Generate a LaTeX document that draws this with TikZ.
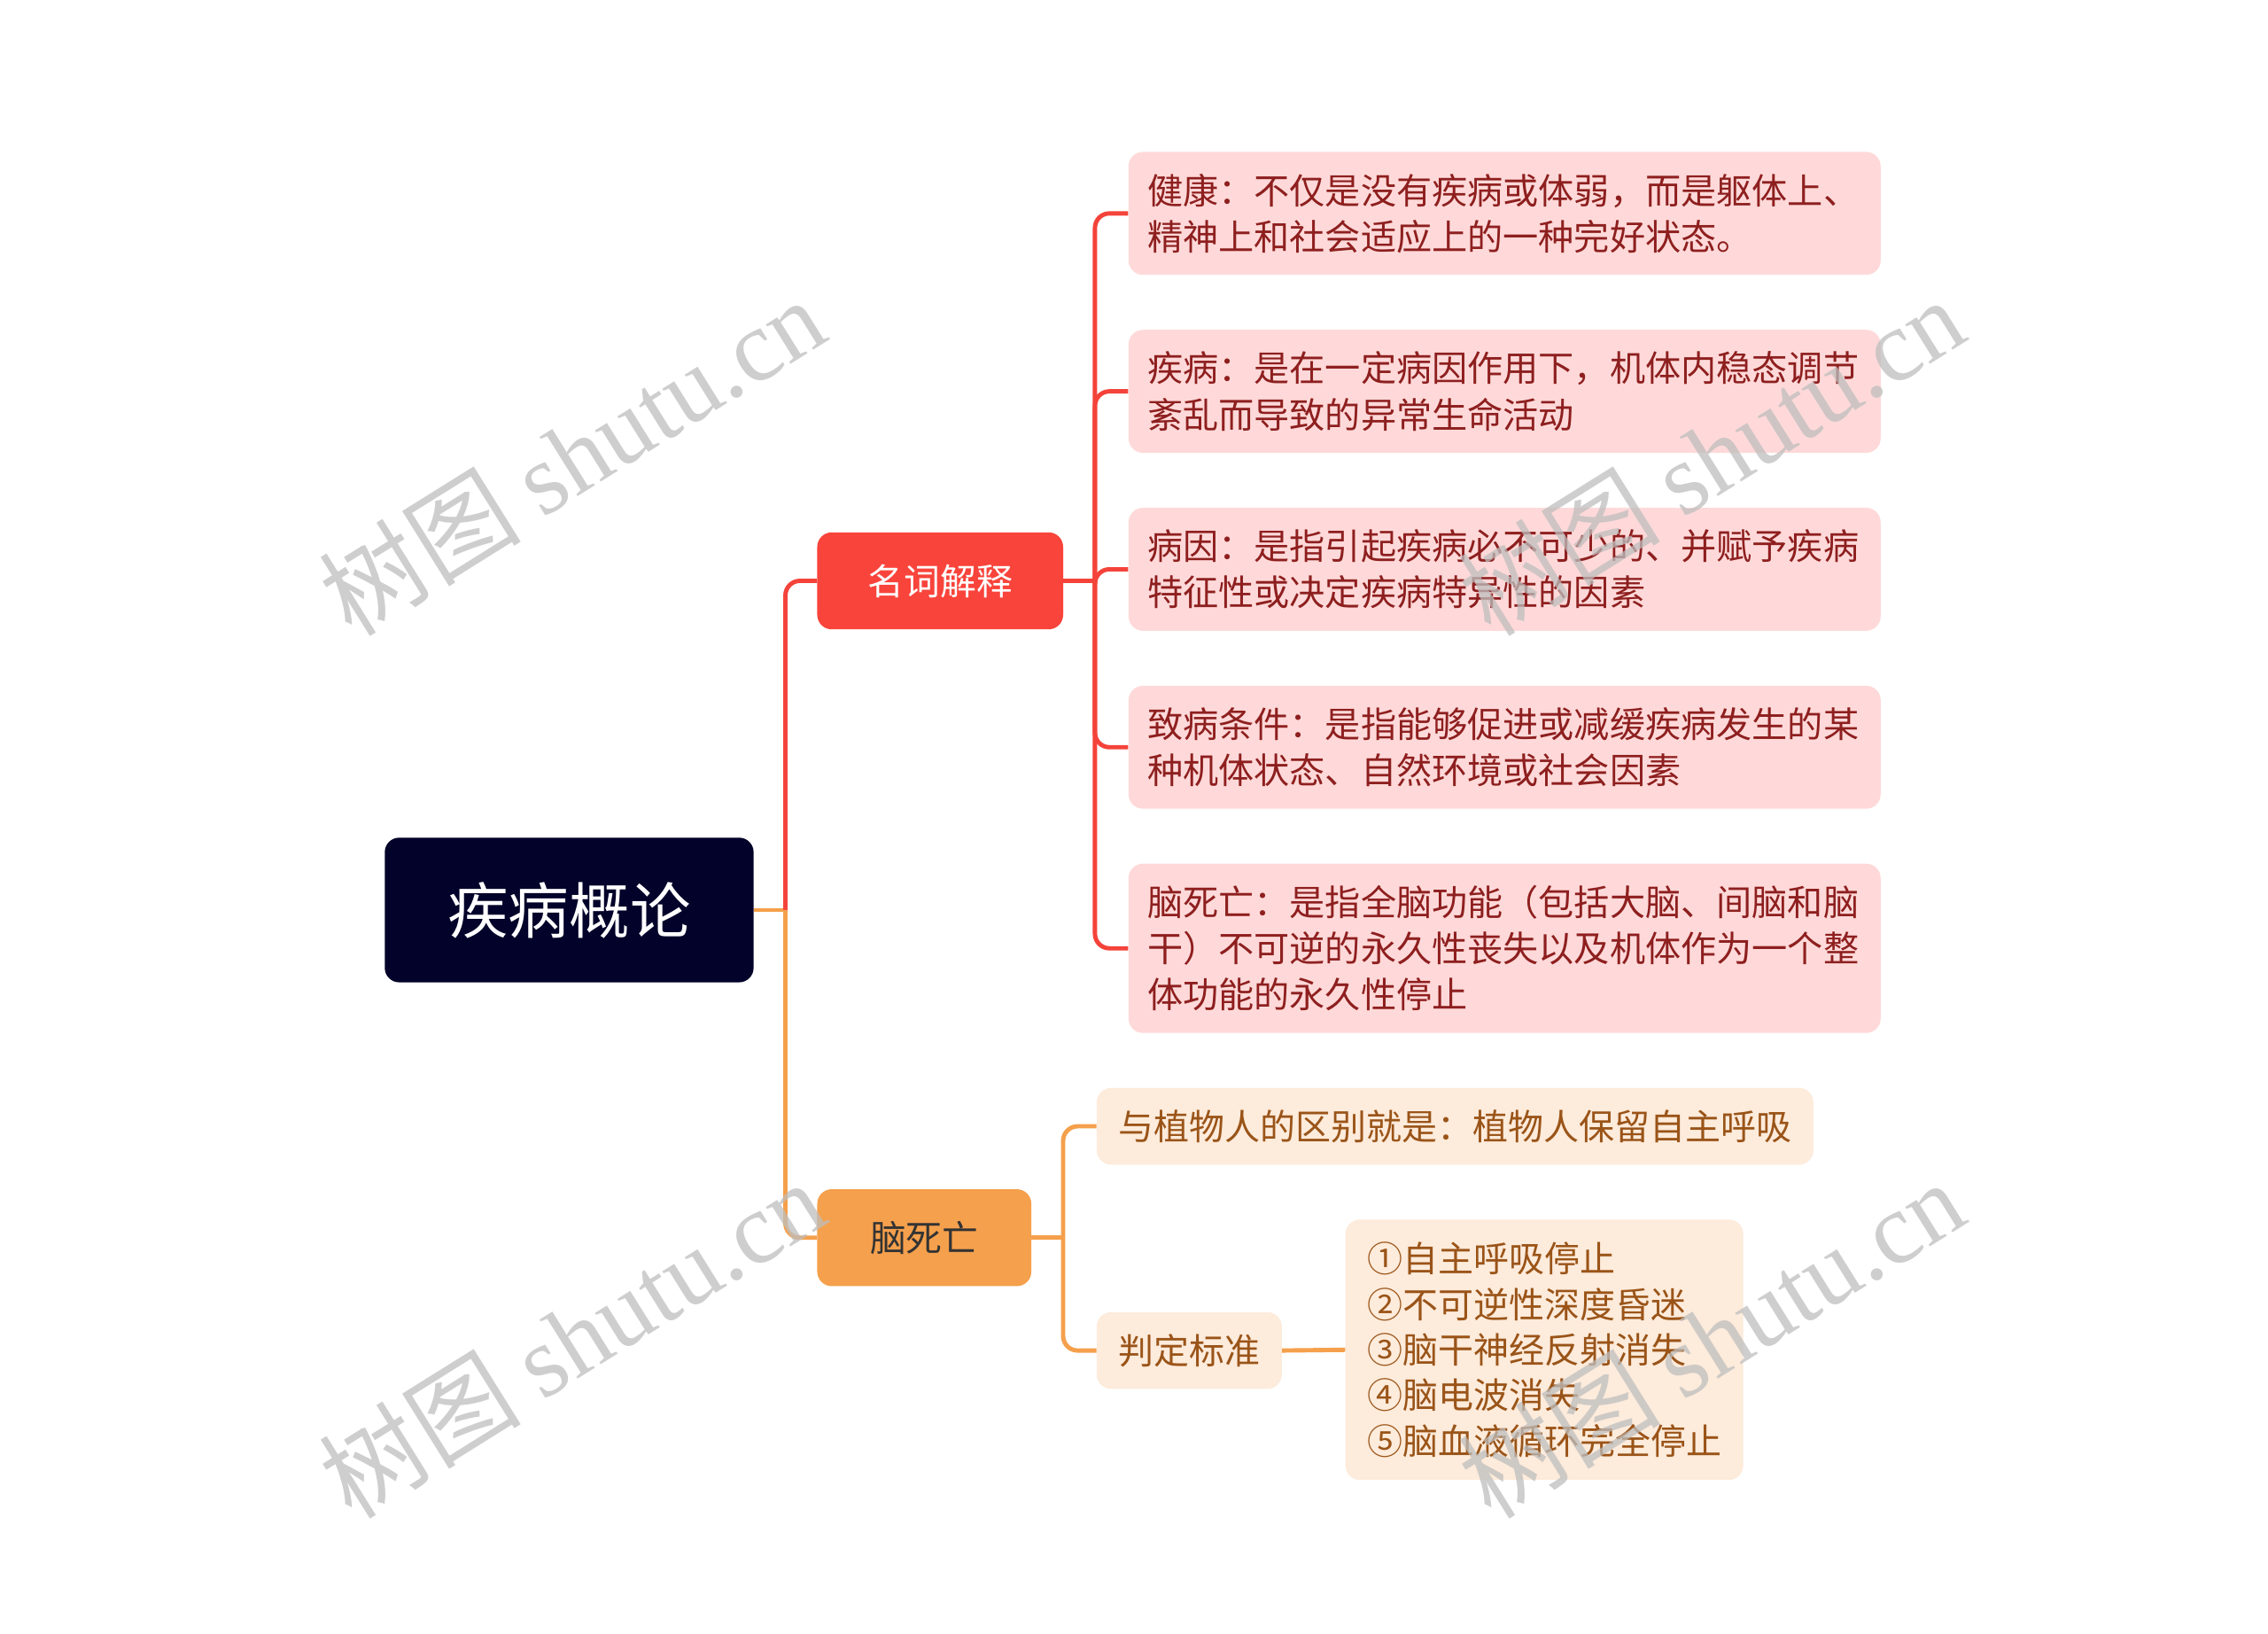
\documentclass[tikz,border=0pt]{standalone}
\usepackage{fontspec}
\setmainfont{Noto Sans CJK SC}
\newfontfamily\cjk{Noto Sans CJK SC}
\newfontfamily\wmserif{Liberation Serif}
\definecolor{rootfill}{HTML}{02022A}
\definecolor{redfill}{HTML}{F9443B}
\definecolor{orangefill}{HTML}{F5A04C}
\definecolor{pinkfill}{HTML}{FFD9D9}
\definecolor{pinktext}{HTML}{8E1F1F}
\definecolor{peachfill}{HTML}{FDEBDB}
\definecolor{peachtext}{HTML}{9A5418}
\definecolor{redline}{HTML}{F4433A}
\definecolor{orangeline}{HTML}{F5A04C}
\definecolor{wmgray}{HTML}{BEBEBE}
\begin{document}
\begin{tikzpicture}[x=1pt,y=-1pt,
  basebox/.style={rounded corners=10pt, inner sep=0pt},
  rootbox/.style={basebox, fill=rootfill, text=white, font=\fontsize{42}{50}\selectfont},
  redbox/.style={basebox, fill=redfill, text=white, font=\fontsize{25}{30}\selectfont},
  orangebox/.style={basebox, fill=orangefill, text=black!80, font=\fontsize{25}{30}\selectfont},
  leaf/.style={basebox, fill=pinkfill, text=pinktext, anchor=west, align=left,
    text width=494pt, inner xsep=13pt, font=\fontsize{24.6}{32}\selectfont},
  sub/.style={basebox, fill=peachfill, text=peachtext, anchor=west, align=left,
    inner xsep=15pt, font=\fontsize{24.5}{31.5}\selectfont},
  rline/.style={draw=redline, line width=3pt, rounded corners=10pt},
  oline/.style={draw=orangeline, line width=3pt, rounded corners=10pt},
  wm/.style={text=wmgray, opacity=0.75, font=\fontsize{70}{74}\selectfont, rotate=32}
]
\useasboundingbox[fill=white] (0,0) rectangle (1568,1129);

% main nodes
\node[rootbox, minimum width=255pt, minimum height=100pt] (root) at (393.5,629) {疾病概论};
\node[redbox, minimum width=170pt, minimum height=67pt] (mc) at (650,401.5) {名词解释};
\node[orangebox, minimum width=148pt, minimum height=67pt] (bn) at (639,855.5) {脑死亡};

% definitions
\node[leaf, minimum height=85pt] (l1) at (780,147.5) {健康：不仅是没有疾病或体弱，而是躯体上、\\精神上和社会适应上的一种完好状态。};
\node[leaf, minimum height=85pt] (l2) at (780,270.5) {疾病：是在一定病因作用下，机体内稳态调节\\紊乱而导致的异常生命活动};
\node[leaf, minimum height=85pt] (l3) at (780,393.5) {病因：是指引起疾病必不可少的、并赋予疾病\\特征性或决定疾病特异性的因素};
\node[leaf, minimum height=85pt] (l4) at (780,516.5) {致病条件：是指能够促进或减缓疾病发生的某\\种机体状态、自然环境或社会因素};
\node[leaf, minimum height=117pt] (l5) at (780,655.5) {脑死亡：是指全脑功能（包括大脑、间脑和脑\\干）不可逆的永久性丧失以及机体作为一个整\\体功能的永久性停止};

% brain death children
\node[sub, minimum height=53pt] (vp) at (758,778.5) {与植物人的区别就是：植物人保留自主呼吸};
\node[sub, minimum height=53pt] (pd) at (758,933.5) {判定标准};
\node[sub, minimum height=180pt] (ls) at (930,933) {①自主呼吸停止\\②不可逆性深度昏迷\\③脑干神经反射消失\\④脑电波消失\\⑤脑血液循环完全停止};

% connectors
\coordinate (rt) at (543,629);
\coordinate (mt) at (757,401.5);
\coordinate (bt) at (735,855.5);
\draw[oline] (root.east) -- (rt);
\draw[rline] (rt) |- (mc.west);
\draw[oline] (rt) |- (bn.west);
\draw[rline] (mc.east) -- (mt);
\draw[rline] (mt) |- (l1.west);
\draw[rline] (mt) |- (l2.west);
\draw[rline] (mt) -- (mt |- l3.west) -- (l3.west);
\draw[rline] (mt) |- (l4.west);
\draw[rline] (mt) |- (l5.west);
\draw[oline] (bn.east) -- (bt);
\draw[oline] (bt) |- (vp.west);
\draw[oline] (bt) |- (pd.west);
\draw[oline] (pd.east) -- (ls.west);

% watermarks
\node[wm] (w1) at (395,315) {{\cjk 树图} {\wmserif shutu.cn}};
\node[wm] (w2) at (395,925) {{\cjk 树图} {\wmserif shutu.cn}};
\node[wm] (w3) at (1183,315) {{\cjk 树图} {\wmserif shutu.cn}};
\node[wm] (w4) at (1183,925) {{\cjk 树图} {\wmserif shutu.cn}};
\end{tikzpicture}
\end{document}
